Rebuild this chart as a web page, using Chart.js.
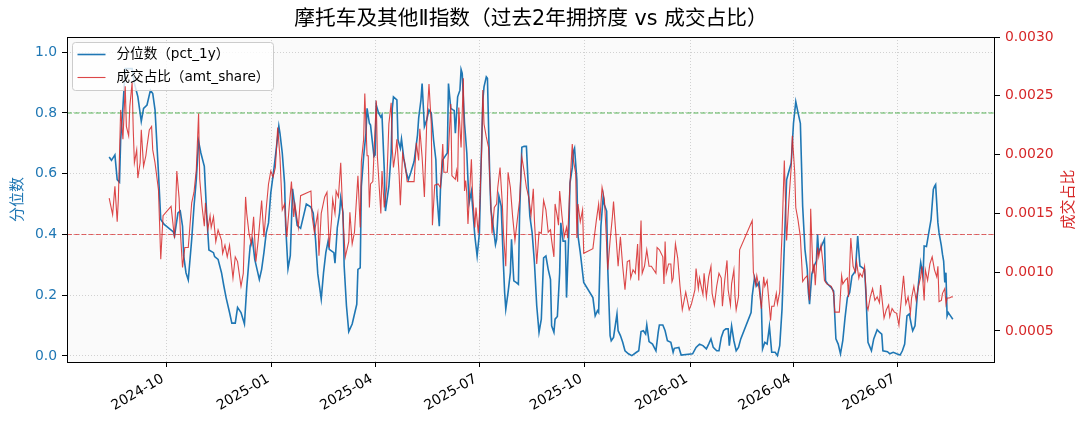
<!DOCTYPE html>
<html lang="zh-CN">
<head>
<meta charset="utf-8">
<title>摩托车及其他Ⅱ指数</title>
<script src="https://cdn.jsdelivr.net/npm/chart.js@4.4.1/dist/chart.umd.min.js"></script>
<style>
  html, body { margin: 0; padding: 0; background: #ffffff; }
  #wrap { width: 1089px; height: 429px; }
</style>
</head>
<body>
<div id="wrap"><canvas id="chart" width="1089" height="429"></canvas></div>
<script>
// pct_1y series (left axis)
const pctDates = [
  '2024-08-12','2024-08-14','2024-08-17','2024-08-19','2024-08-21','2024-08-22','2024-08-24','2024-08-26',
  '2024-09-01','2024-09-03','2024-09-06','2024-09-09','2024-09-11','2024-09-14','2024-09-17','2024-09-19',
  '2024-09-21','2024-09-24','2024-09-26','2024-09-29','2024-10-07','2024-10-08','2024-10-11','2024-10-13',
  '2024-10-15','2024-10-16','2024-10-18','2024-10-20','2024-10-23','2024-10-25','2024-10-27','2024-10-29',
  '2024-10-31','2024-11-03','2024-11-05','2024-11-07','2024-11-11','2024-11-12','2024-11-15','2024-11-18',
  '2024-11-20','2024-11-22','2024-11-25','2024-11-27','2024-11-30','2024-12-02','2024-12-05','2024-12-08',
  '2024-12-10','2024-12-12','2024-12-13','2024-12-15','2024-12-17','2024-12-19','2024-12-21','2024-12-23',
  '2024-12-25','2024-12-27','2024-12-29','2024-12-31','2025-01-03','2025-01-05','2025-01-07','2025-01-08',
  '2025-01-10','2025-01-12','2025-01-13','2025-01-15','2025-01-17','2025-01-19','2025-01-23','2025-01-26',
  '2025-01-31','2025-02-04','2025-02-06','2025-02-08','2025-02-10','2025-02-13','2025-02-15','2025-02-17',
  '2025-02-19','2025-02-20','2025-02-24','2025-02-25','2025-02-27','2025-03-01','2025-03-02','2025-03-04',
  '2025-03-05','2025-03-07','2025-03-09','2025-03-12','2025-03-16','2025-03-17','2025-03-19','2025-03-20',
  '2025-03-22','2025-03-24','2025-03-25','2025-03-27','2025-03-28','2025-03-31','2025-04-01','2025-04-02',
  '2025-04-04','2025-04-06','2025-04-07','2025-04-09','2025-04-10','2025-04-13','2025-04-15','2025-04-16',
  '2025-04-17','2025-04-20','2025-04-21','2025-04-23','2025-04-24','2025-04-26','2025-04-28','2025-04-30',
  '2025-05-02','2025-05-05','2025-05-08','2025-05-09','2025-05-11','2025-05-12','2025-05-14','2025-05-16',
  '2025-05-18','2025-05-20','2025-05-22','2025-05-24','2025-05-25','2025-05-27','2025-05-28','2025-05-30',
  '2025-06-01','2025-06-03','2025-06-04','2025-06-06','2025-06-08','2025-06-09','2025-06-10','2025-06-12',
  '2025-06-14','2025-06-15','2025-06-16','2025-06-18','2025-06-20','2025-06-21','2025-06-22','2025-06-24',
  '2025-06-25','2025-06-27','2025-06-28','2025-06-29','2025-07-01','2025-07-02','2025-07-04','2025-07-05',
  '2025-07-07','2025-07-08','2025-07-10','2025-07-11','2025-07-13','2025-07-15','2025-07-16','2025-07-18',
  '2025-07-20','2025-07-22','2025-07-23','2025-07-24','2025-07-26','2025-07-28','2025-07-29','2025-07-31',
  '2025-08-02','2025-08-04','2025-08-05','2025-08-07','2025-08-09','2025-08-11','2025-08-13','2025-08-14',
  '2025-08-16','2025-08-18','2025-08-20','2025-08-22','2025-08-24','2025-08-26','2025-08-28','2025-08-30',
  '2025-09-01','2025-09-02','2025-09-04','2025-09-05','2025-09-07','2025-09-09','2025-09-10','2025-09-12',
  '2025-09-14','2025-09-15','2025-09-17','2025-09-18','2025-09-20','2025-09-21','2025-09-22','2025-09-24',
  '2025-09-25','2025-09-27','2025-09-30','2025-10-08','2025-10-10','2025-10-12','2025-10-13','2025-10-15',
  '2025-10-17','2025-10-18','2025-10-20','2025-10-21','2025-10-23','2025-10-24','2025-10-26','2025-10-29',
  '2025-10-30','2025-11-01','2025-11-03','2025-11-05','2025-11-08','2025-11-11','2025-11-15','2025-11-17',
  '2025-11-19','2025-11-21','2025-11-23','2025-11-24','2025-11-26','2025-11-29','2025-12-02','2025-12-04',
  '2025-12-05','2025-12-08','2025-12-10','2025-12-12','2025-12-15','2025-12-17','2025-12-18','2025-12-22',
  '2025-12-24','2026-01-03','2026-01-06','2026-01-09','2026-01-12','2026-01-15','2026-01-17','2026-01-19',
  '2026-01-21','2026-01-24','2026-01-26','2026-01-28','2026-01-30','2026-02-01','2026-02-03','2026-02-04',
  '2026-02-06','2026-02-08','2026-02-10','2026-02-12','2026-02-14','2026-02-23','2026-02-24','2026-02-26',
  '2026-02-28','2026-03-02','2026-03-04','2026-03-05','2026-03-07','2026-03-09','2026-03-11','2026-03-13',
  '2026-03-16','2026-03-18','2026-03-20','2026-03-22','2026-03-24','2026-03-26','2026-03-28','2026-03-30',
  '2026-04-01','2026-04-03','2026-04-05','2026-04-07','2026-04-09','2026-04-11','2026-04-13','2026-04-14',
  '2026-04-15','2026-04-17','2026-04-19','2026-04-21','2026-04-22','2026-04-23','2026-04-26','2026-04-28',
  '2026-04-29','2026-05-01','2026-05-04','2026-05-06','2026-05-08','2026-05-10','2026-05-12','2026-05-14',
  '2026-05-16','2026-05-18','2026-05-20','2026-05-22','2026-05-24','2026-05-25','2026-05-27','2026-05-29',
  '2026-05-31','2026-06-02','2026-06-03','2026-06-05','2026-06-08','2026-06-10','2026-06-13','2026-06-15',
  '2026-06-17','2026-06-18','2026-06-22','2026-06-24','2026-06-27','2026-06-30','2026-07-03','2026-07-05',
  '2026-07-07','2026-07-09','2026-07-11','2026-07-13','2026-07-14','2026-07-16','2026-07-18','2026-07-20',
  '2026-07-21','2026-07-23','2026-07-24','2026-07-26','2026-07-28','2026-07-30','2026-08-01','2026-08-02',
  '2026-08-03','2026-08-05','2026-08-06','2026-08-08','2026-08-09','2026-08-10','2026-08-11','2026-08-12',
  '2026-08-13','2026-08-14','2026-08-16','2026-08-18'
];
const pctValues = [
  0.655,0.644,0.662,0.580,0.572,0.710,0.820,0.946,
  0.946,0.897,0.854,0.772,0.815,0.826,0.875,0.864,
  0.810,0.602,0.449,0.433,0.408,0.395,0.471,0.477,
  0.427,0.330,0.274,0.250,0.384,0.493,0.580,0.706,
  0.668,0.624,0.471,0.349,0.340,0.327,0.318,0.274,
  0.231,0.192,0.143,0.108,0.108,0.160,0.143,0.105,
  0.225,0.318,0.362,0.384,0.318,0.285,0.252,0.285,
  0.340,0.405,0.438,0.537,0.624,0.690,0.757,0.733,
  0.668,0.569,0.427,0.287,0.330,0.550,0.430,0.420,
  0.500,0.490,0.470,0.385,0.270,0.187,0.274,0.340,
  0.378,0.351,0.340,0.305,0.422,0.471,0.520,0.471,
  0.296,0.165,0.080,0.105,0.170,0.285,0.290,0.558,
  0.657,0.733,0.815,0.766,0.760,0.657,0.662,0.826,
  0.800,0.786,0.793,0.613,0.477,0.558,0.668,0.815,
  0.853,0.843,0.711,0.684,0.714,0.651,0.608,0.580,
  0.602,0.640,0.728,0.783,0.843,0.897,0.755,0.777,
  0.810,0.800,0.711,0.646,0.526,0.427,0.548,0.646,
  0.657,0.668,0.897,0.815,0.810,0.808,0.733,0.853,
  0.875,0.943,0.930,0.766,0.668,0.580,0.504,0.542,
  0.493,0.395,0.362,0.329,0.405,0.569,0.843,0.886,
  0.919,0.914,0.591,0.482,0.427,0.367,0.384,0.526,
  0.493,0.296,0.209,0.154,0.209,0.274,0.384,0.247,
  0.242,0.236,0.460,0.687,0.690,0.690,0.526,0.460,
  0.405,0.307,0.165,0.078,0.121,0.323,0.329,0.285,
  0.252,0.099,0.078,0.121,0.130,0.274,0.438,0.378,
  0.378,0.192,0.405,0.569,0.619,0.673,0.684,0.580,
  0.395,0.340,0.242,0.192,0.132,0.149,0.143,0.427,
  0.526,0.498,0.477,0.285,0.067,0.050,0.061,0.138,
  0.083,0.067,0.045,0.017,0.007,0.001,0.012,0.017,
  0.080,0.083,0.072,0.102,0.047,0.039,0.017,0.078,
  0.102,0.102,0.083,0.050,0.045,0.012,0.025,0.028,
  0.003,0.007,0.028,0.039,0.034,0.023,0.039,0.056,
  0.028,0.017,0.017,0.061,0.083,0.089,0.089,0.034,
  0.099,0.050,0.017,0.028,0.056,0.143,0.198,0.258,
  0.231,0.242,0.165,0.023,0.045,0.039,0.097,0.012,
  0.012,0.001,0.034,0.154,0.362,0.580,0.608,0.635,
  0.766,0.837,0.800,0.766,0.493,0.351,0.285,0.209,
  0.170,0.269,0.296,0.312,0.400,0.340,0.367,0.384,
  0.247,0.236,0.225,0.214,0.056,0.039,0.007,0.050,
  0.127,0.192,0.209,0.263,0.274,0.280,0.395,0.296,
  0.291,0.285,0.220,0.045,0.017,0.056,0.086,0.078,
  0.072,0.017,0.014,0.007,0.012,0.007,0.003,0.017,
  0.039,0.132,0.138,0.099,0.083,0.099,0.198,0.274,
  0.307,0.263,0.362,0.360,0.405,0.449,0.548,0.558,
  0.564,0.438,0.405,0.362,0.334,0.312,0.242,0.274,
  0.132,0.143,0.132,0.121
];

// amt_share series (right axis)
const shareDates = [
  '2024-08-12','2024-08-15','2024-08-17','2024-08-19','2024-08-20','2024-08-22','2024-08-24','2024-08-26',
  '2024-08-27','2024-08-29','2024-08-30','2024-09-01','2024-09-02','2024-09-03','2024-09-05','2024-09-06',
  '2024-09-08','2024-09-09','2024-09-11','2024-09-13','2024-09-14','2024-09-16','2024-09-18','2024-09-19',
  '2024-09-21','2024-09-24','2024-09-26','2024-09-28','2024-10-05','2024-10-08','2024-10-10','2024-10-12',
  '2024-10-13','2024-10-15','2024-10-17','2024-10-20','2024-10-23','2024-10-25','2024-10-27','2024-10-29',
  '2024-10-30','2024-11-01','2024-11-03','2024-11-04','2024-11-06','2024-11-08','2024-11-09','2024-11-11',
  '2024-11-13','2024-11-15','2024-11-18','2024-11-19','2024-11-21','2024-11-23','2024-11-25','2024-11-28',
  '2024-11-30','2024-12-02','2024-12-05','2024-12-07','2024-12-09','2024-12-10','2024-12-12','2024-12-14',
  '2024-12-16','2024-12-18','2024-12-20','2024-12-23','2024-12-25','2024-12-27','2024-12-29','2024-12-31',
  '2025-01-02','2025-01-04','2025-01-06','2025-01-08','2025-01-10','2025-01-12','2025-01-14','2025-01-16',
  '2025-01-18','2025-01-20','2025-01-21','2025-01-24','2025-01-26','2025-02-04','2025-02-05','2025-02-07',
  '2025-02-10','2025-02-11','2025-02-13','2025-02-16','2025-02-18','2025-02-20','2025-02-22','2025-02-23',
  '2025-02-25','2025-02-26','2025-02-28','2025-03-02','2025-03-04','2025-03-06','2025-03-09','2025-03-10',
  '2025-03-12','2025-03-14','2025-03-17','2025-03-19','2025-03-20','2025-03-22','2025-03-23','2025-03-25',
  '2025-03-26','2025-03-27','2025-03-28','2025-03-30','2025-04-01','2025-04-02','2025-04-03','2025-04-06',
  '2025-04-07','2025-04-09','2025-04-11','2025-04-13','2025-04-15','2025-04-16','2025-04-17','2025-04-19',
  '2025-04-20','2025-04-22','2025-04-23','2025-04-25','2025-04-27','2025-04-29','2025-05-02','2025-05-05',
  '2025-05-07','2025-05-09','2025-05-10','2025-05-12','2025-05-14','2025-05-16','2025-05-18','2025-05-20',
  '2025-05-21','2025-05-23','2025-05-26','2025-05-28','2025-05-30','2025-05-31','2025-06-03','2025-06-04',
  '2025-06-06','2025-06-07','2025-06-10','2025-06-11','2025-06-12','2025-06-13','2025-06-15','2025-06-17',
  '2025-06-18','2025-06-19','2025-06-20','2025-06-21','2025-06-23','2025-06-24','2025-06-25','2025-06-27',
  '2025-06-28','2025-06-30','2025-07-01','2025-07-03','2025-07-04','2025-07-05','2025-07-07','2025-07-09',
  '2025-07-10','2025-07-12','2025-07-14','2025-07-16','2025-07-17','2025-07-19','2025-07-21','2025-07-22',
  '2025-07-24','2025-07-26','2025-07-28','2025-07-30','2025-08-01','2025-08-03','2025-08-05','2025-08-07',
  '2025-08-09','2025-08-11','2025-08-13','2025-08-15','2025-08-17','2025-08-18','2025-08-20','2025-08-22',
  '2025-08-24','2025-08-26','2025-08-28','2025-08-30','2025-09-01','2025-09-02','2025-09-04','2025-09-05',
  '2025-09-07','2025-09-08','2025-09-09','2025-09-11','2025-09-13','2025-09-15','2025-09-16','2025-09-18',
  '2025-09-20','2025-09-21','2025-09-23','2025-09-24','2025-09-25','2025-09-27','2025-09-29','2025-09-30',
  '2025-10-08','2025-10-11','2025-10-13','2025-10-14','2025-10-16','2025-10-18','2025-10-19','2025-10-21',
  '2025-10-23','2025-10-25','2025-10-26','2025-10-28','2025-10-30','2025-11-01','2025-11-03','2025-11-05',
  '2025-11-07','2025-11-09','2025-11-10','2025-11-12','2025-11-14','2025-11-16','2025-11-17','2025-11-19',
  '2025-11-20','2025-11-22','2025-11-24','2025-11-26','2025-11-28','2025-11-30','2025-12-02','2025-12-03',
  '2025-12-05','2025-12-08','2025-12-09','2025-12-10','2025-12-11','2025-12-13','2025-12-15','2025-12-16',
  '2025-12-17','2025-12-19','2025-12-21','2025-12-23','2025-12-25','2025-12-28','2025-12-31','2026-01-02',
  '2026-01-05','2026-01-06','2026-01-08','2026-01-09','2026-01-10','2026-01-12','2026-01-13','2026-01-15',
  '2026-01-17','2026-01-19','2026-01-20','2026-01-22','2026-01-24','2026-01-26','2026-01-28','2026-01-29',
  '2026-01-31','2026-02-02','2026-02-03','2026-02-05','2026-02-06','2026-02-08','2026-02-09','2026-02-10',
  '2026-02-12','2026-02-13','2026-02-24','2026-02-25','2026-02-27','2026-02-28','2026-03-02','2026-03-04',
  '2026-03-06','2026-03-07','2026-03-09','2026-03-12','2026-03-13','2026-03-15','2026-03-17','2026-03-18',
  '2026-03-20','2026-03-22','2026-03-24','2026-03-26','2026-03-28','2026-03-30','2026-03-31','2026-04-02',
  '2026-04-03','2026-04-05','2026-04-07','2026-04-09','2026-04-11','2026-04-13','2026-04-15','2026-04-16',
  '2026-04-18','2026-04-19','2026-04-20','2026-04-22','2026-04-23','2026-04-25','2026-04-27','2026-04-28',
  '2026-04-30','2026-05-04','2026-05-06','2026-05-07','2026-05-09','2026-05-11','2026-05-13','2026-05-14',
  '2026-05-16','2026-05-18','2026-05-19','2026-05-21','2026-05-23','2026-05-25','2026-05-26','2026-05-28',
  '2026-05-29','2026-05-31','2026-06-02','2026-06-04','2026-06-05','2026-06-07','2026-06-09','2026-06-11',
  '2026-06-13','2026-06-15','2026-06-16','2026-06-19','2026-06-21','2026-06-23','2026-06-24','2026-06-26',
  '2026-06-28','2026-06-30','2026-07-02','2026-07-04','2026-07-06','2026-07-08','2026-07-10','2026-07-12',
  '2026-07-13','2026-07-15','2026-07-17','2026-07-19','2026-07-21','2026-07-22','2026-07-24','2026-07-25',
  '2026-07-27','2026-07-29','2026-07-31','2026-08-02','2026-08-04','2026-08-05','2026-08-06','2026-08-08',
  '2026-08-09','2026-08-11','2026-08-12','2026-08-13','2026-08-15','2026-08-17','2026-08-18'
];
const shareValues = [
  0.00163,0.00149,0.00173,0.00143,0.00162,0.00238,0.00213,0.00258,
  0.00224,0.00216,0.00241,0.00261,0.00221,0.00193,0.00204,0.00180,
  0.00193,0.00221,0.00190,0.00199,0.00207,0.00221,0.00224,0.00204,
  0.00193,0.00170,0.00111,0.00148,0.00156,0.00129,0.00186,0.00163,
  0.00136,0.00104,0.00121,0.00121,0.00159,0.00168,0.00187,0.00235,
  0.00179,0.00156,0.00139,0.00159,0.00136,0.00148,0.00138,0.00147,
  0.00126,0.00136,0.00127,0.00116,0.00123,0.00113,0.00123,0.00095,
  0.00113,0.00109,0.00088,0.00099,0.00164,0.00150,0.00133,0.00124,
  0.00147,0.00109,0.00127,0.00161,0.00130,0.00154,0.00175,0.00186,
  0.00181,0.00189,0.00223,0.00198,0.00153,0.00158,0.00130,0.00155,
  0.00177,0.00147,0.00158,0.00138,0.00165,0.00169,0.00148,0.00134,
  0.00150,0.00114,0.00150,0.00164,0.00168,0.00121,0.00145,0.00162,
  0.00150,0.00169,0.00164,0.00193,0.00144,0.00113,0.00126,0.00151,
  0.00124,0.00134,0.00182,0.00138,0.00194,0.00213,0.00252,0.00199,
  0.00199,0.00155,0.00175,0.00177,0.00223,0.00246,0.00198,0.00150,
  0.00186,0.00155,0.00171,0.00226,0.00244,0.00205,0.00189,0.00203,
  0.00213,0.00182,0.00157,0.00201,0.00192,0.00177,0.00177,0.00177,
  0.00210,0.00195,0.00222,0.00198,0.00164,0.00226,0.00260,0.00226,
  0.00140,0.00174,0.00175,0.00172,0.00209,0.00185,0.00185,0.00203,
  0.00243,0.00182,0.00179,0.00186,0.00177,0.00240,0.00206,0.00265,
  0.00169,0.00178,0.00167,0.00141,0.00178,0.00196,0.00167,0.00138,
  0.00155,0.00133,0.00148,0.00206,0.00255,0.00226,0.00215,0.00206,
  0.00181,0.00133,0.00155,0.00158,0.00172,0.00189,0.00158,0.00133,
  0.00105,0.00185,0.00172,0.00147,0.00127,0.00144,0.00161,0.00198,
  0.00186,0.00172,0.00164,0.00148,0.00171,0.00144,0.00107,0.00134,
  0.00133,0.00161,0.00153,0.00134,0.00136,0.00127,0.00113,0.00158,
  0.00147,0.00140,0.00169,0.00148,0.00130,0.00138,0.00129,0.00175,
  0.00209,0.00195,0.00184,0.00129,0.00158,0.00143,0.00153,0.00116,
  0.00120,0.00144,0.00158,0.00144,0.00172,0.00162,0.00144,0.00102,
  0.00127,0.00147,0.00160,0.00133,0.00105,0.00130,0.00105,0.00085,
  0.00109,0.00110,0.00095,0.00102,0.00099,0.00124,0.00093,0.00144,
  0.00099,0.00105,0.00119,0.00105,0.00105,0.00102,0.00099,0.00121,
  0.00119,0.00113,0.00090,0.00126,0.00099,0.00107,0.00107,0.00092,
  0.00095,0.00124,0.00112,0.00088,0.00068,0.00083,0.00068,0.00073,
  0.00085,0.00103,0.00086,0.00095,0.00090,0.00081,0.00099,0.00079,
  0.00096,0.00105,0.00082,0.00072,0.00088,0.00099,0.00095,0.00071,
  0.00093,0.00110,0.00085,0.00072,0.00090,0.00102,0.00079,0.00068,
  0.00079,0.00119,0.00144,0.00100,0.00089,0.00097,0.00086,0.00069,
  0.00096,0.00088,0.00093,0.00059,0.00071,0.00071,0.00082,0.00073,
  0.00083,0.00133,0.00195,0.00127,0.00161,0.00189,0.00216,0.00186,
  0.00155,0.00144,0.00130,0.00092,0.00095,0.00097,0.00076,0.00154,
  0.00099,0.00107,0.00089,0.00121,0.00113,0.00123,0.00105,0.00093,
  0.00090,0.00088,0.00082,0.00066,0.00066,0.00066,0.00097,0.00090,
  0.00093,0.00095,0.00079,0.00129,0.00105,0.00100,0.00109,0.00095,
  0.00099,0.00096,0.00105,0.00071,0.00068,0.00079,0.00086,0.00076,
  0.00079,0.00074,0.00089,0.00061,0.00068,0.00072,0.00062,0.00069,
  0.00066,0.00065,0.00055,0.00076,0.00097,0.00073,0.00079,0.00065,
  0.00078,0.00088,0.00076,0.00088,0.00096,0.00105,0.00076,0.00102,
  0.00093,0.00107,0.00113,0.00102,0.00096,0.00105,0.00075,0.00076,
  0.00082,0.00086,0.00073,0.00078,0.00078,0.00079,0.00079
];

// axis ticks and reference lines
const xTickMonths = ['2024-10', '2025-01', '2025-04', '2025-07', '2025-10', '2026-01', '2026-04', '2026-07'];
const leftTicks = [0.0, 0.2, 0.4, 0.6, 0.8, 1.0];
const rightTicks = [0.0005, 0.0010, 0.0015, 0.0020, 0.0025, 0.0030];
const highLine = 0.8;
const lowLine = 0.4;

const FONT = '"DejaVu Sans", "Noto Sans CJK SC", sans-serif';
const BLUE = '#1f77b4';
const RED = '#d62728';
const GRID = 'rgba(176, 176, 176, 0.7)';

function toDay(s) {
    const parts = s.split('-').map(Number);
    return Date.UTC(parts[0], parts[1] - 1, parts[2] || 1) / 86400000;
}

function dayToMonthLabel(day) {
    const dt = new Date(Math.round(day) * 86400000);
    return dt.getUTCFullYear() + '-' + String(dt.getUTCMonth() + 1).padStart(2, '0');
}

const pctPoints = pctDates.map((d, i) => ({ x: toDay(d), y: pctValues[i] }));
const sharePoints = shareDates.map((d, i) => ({ x: toDay(d), y: shareValues[i] }));

const allDays = pctPoints.concat(sharePoints).map(p => p.x);
const dayMin = Math.min(...allDays);
const dayMax = Math.max(...allDays);
const dayPad = (dayMax - dayMin) * 0.05;

/**
 * Draw the axes background, reference lines, legend, frame and texts
 */
const decorPlugin = {
    id: 'decor',
    beforeDraw(chart) {
        const { ctx, chartArea: a } = chart;
        ctx.save();
        ctx.fillStyle = '#ffffff';
        ctx.fillRect(0, 0, chart.width, chart.height);
        ctx.fillStyle = '#fafafa';
        ctx.fillRect(a.left, a.top, a.right - a.left, a.bottom - a.top);
        ctx.restore();
    },
    beforeDatasetsDraw(chart) {
        const { ctx, chartArea: a } = chart;
        const y = chart.scales.y;
        ctx.save();
        ctx.lineWidth = 1.1;
        ctx.setLineDash([5, 2.2]);
        [[highLine, 'rgba(44, 160, 44, 0.8)'], [lowLine, 'rgba(214, 39, 40, 0.7)']].forEach(([v, c]) => {
            const py = y.getPixelForValue(v);
            ctx.strokeStyle = c;
            ctx.beginPath();
            ctx.moveTo(a.left, py);
            ctx.lineTo(a.right, py);
            ctx.stroke();
        });
        ctx.restore();
    },
    afterDatasetDraw(chart, args) {
        // legend sits above the blue line but below the red one
        if (args.index !== 0) return;
        const { ctx, chartArea: a } = chart;
        const bx = a.left + 5.5, by = a.top + 5.5, bw = 201, bh = 48;
        ctx.save();
        ctx.beginPath();
        ctx.roundRect(bx, by, bw, bh, 3);
        ctx.fillStyle = 'rgba(255, 255, 255, 0.8)';
        ctx.fill();
        ctx.strokeStyle = '#cccccc';
        ctx.lineWidth = 1;
        ctx.stroke();
        const rows = [
            { label: '分位数（pct_1y）', color: BLUE, width: 1.6, y: by + 12 },
            { label: '成交占比（amt_share）', color: 'rgba(214, 39, 40, 0.85)', width: 1.1, y: by + 35 }
        ];
        ctx.font = '13.6px ' + FONT;
        ctx.textBaseline = 'middle';
        ctx.textAlign = 'left';
        rows.forEach(r => {
            ctx.strokeStyle = r.color;
            ctx.lineWidth = r.width;
            ctx.beginPath();
            ctx.moveTo(bx + 5, r.y);
            ctx.lineTo(bx + 33, r.y);
            ctx.stroke();
            ctx.fillStyle = '#000000';
            ctx.fillText(r.label, bx + 44, r.y);
        });
        ctx.restore();
    },
    afterDraw(chart) {
        const { ctx, chartArea: a } = chart;
        const xs = chart.scales.x;
        ctx.save();
        ctx.strokeStyle = '#000000';
        ctx.lineWidth = 1;
        ctx.strokeRect(a.left + 0.5, a.top + 0.5, a.right - a.left - 1, a.bottom - a.top);

        // rotated month labels, right end hanging under each tick
        ctx.font = '13.9px ' + FONT;
        ctx.fillStyle = '#000000';
        ctx.textAlign = 'right';
        ctx.textBaseline = 'top';
        xs.ticks.forEach(t => {
            const px = xs.getPixelForValue(t.value);
            ctx.save();
            ctx.translate(px - 7, a.bottom + 10);
            ctx.rotate(-Math.PI / 6);
            ctx.fillText(dayToMonthLabel(t.value), 0, 0);
            ctx.restore();
        });

        ctx.font = '20.7px ' + FONT;
        ctx.textAlign = 'center';
        ctx.textBaseline = 'middle';
        ctx.fillText('摩托车及其他Ⅱ指数（过去2年拥挤度 vs 成交占比）', (a.left + a.right) / 2, 20);

        const midY = (a.top + a.bottom) / 2;
        ctx.font = '15px ' + FONT;
        ctx.save();
        ctx.translate(18, midY);
        ctx.rotate(-Math.PI / 2);
        ctx.fillStyle = BLUE;
        ctx.fillText('分位数', 0, 0);
        ctx.restore();
        ctx.save();
        ctx.translate(1069, midY);
        ctx.rotate(-Math.PI / 2);
        ctx.fillStyle = RED;
        ctx.fillText('成交占比', 0, 0);
        ctx.restore();
        ctx.restore();
    }
};

const tickFont = { family: FONT, size: 13.9 };

new Chart(document.getElementById('chart'), {
    type: 'line',
    data: {
        datasets: [
            {
                label: '分位数（pct_1y）',
                data: pctPoints,
                yAxisID: 'y',
                borderColor: BLUE,
                borderWidth: 1.6,
                pointRadius: 0,
                tension: 0,
                order: 2
            },
            {
                label: '成交占比（amt_share）',
                data: sharePoints,
                yAxisID: 'y1',
                borderColor: 'rgba(214, 39, 40, 0.85)',
                borderWidth: 1.1,
                pointRadius: 0,
                tension: 0,
                order: 1
            }
        ]
    },
    options: {
        responsive: false,
        animation: false,
        devicePixelRatio: 1,
        events: [],
        layout: { padding: { top: 37, left: 0, right: 0, bottom: 0 } },
        plugins: {
            legend: { display: false },
            title: { display: false },
            tooltip: { enabled: false }
        },
        scales: {
            x: {
                type: 'linear',
                min: dayMin - dayPad,
                max: dayMax + dayPad,
                afterBuildTicks: s => { s.ticks = xTickMonths.map(m => ({ value: toDay(m) })); },
                afterFit: s => { s.height = 67; },
                ticks: { display: false, autoSkip: false },
                grid: { color: GRID, lineWidth: 0.8, tickColor: '#000000', tickLength: 5, tickWidth: 1, tickBorderDash: [] },
                border: { display: false, dash: [1, 2] }
            },
            y: {
                position: 'left',
                min: -0.02,
                max: 1.05,
                afterBuildTicks: s => { s.ticks = leftTicks.map(v => ({ value: v })); },
                afterFit: s => { s.width = 67; },
                ticks: { color: BLUE, font: tickFont, padding: 5, callback: v => v.toFixed(1) },
                grid: { color: GRID, lineWidth: 0.8, tickColor: '#000000', tickLength: 5, tickWidth: 1, tickBorderDash: [] },
                border: { display: false, dash: [1, 2] }
            },
            y1: {
                position: 'right',
                min: 0.000236,
                max: 0.0030,
                afterBuildTicks: s => { s.ticks = rightTicks.map(v => ({ value: v })); },
                afterFit: s => { s.width = 94; },
                ticks: { color: RED, font: tickFont, padding: 5, callback: v => v.toFixed(4) },
                grid: { drawOnChartArea: false, color: '#000000', tickColor: '#000000', tickLength: 5, tickWidth: 1 },
                border: { display: false }
            }
        }
    },
    plugins: [decorPlugin]
});
</script>
</body>
</html>
